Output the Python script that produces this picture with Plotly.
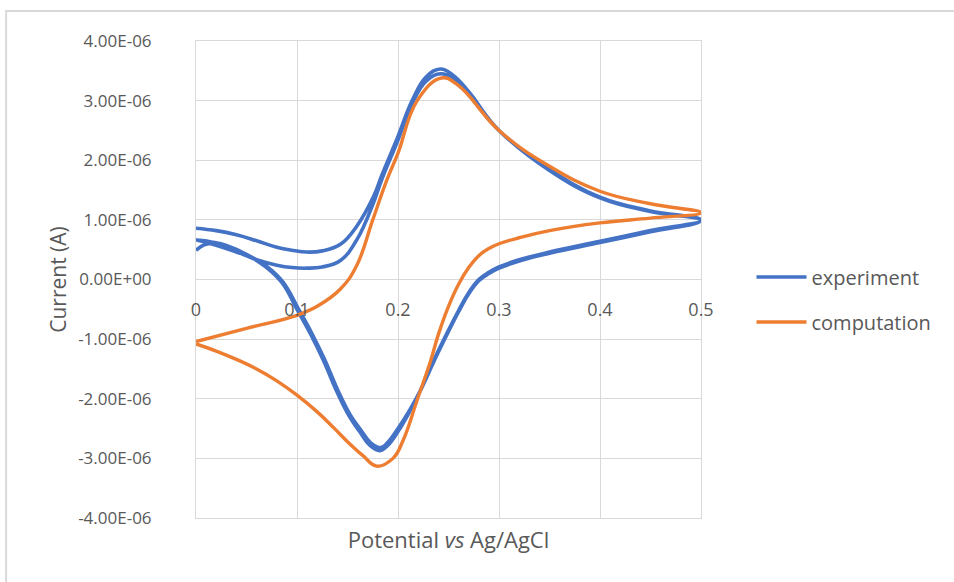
import plotly.graph_objects as go

# Cyclic voltammogram, potential in V, current in microamps
E_exp = [
    # first anodic sweep
    0.000, 0.020, 0.040, 0.060, 0.080, 0.095, 0.110, 0.125, 0.143, 0.159, 0.176, 0.184,
    0.200, 0.214, 0.228, 0.242, 0.255, 0.270, 0.300, 0.350, 0.400, 0.450, 0.500,
    # first cathodic sweep
    0.450, 0.400, 0.350, 0.320, 0.300, 0.290, 0.280, 0.270, 0.260, 0.250, 0.237, 0.224,
    0.212, 0.200, 0.190, 0.182, 0.172, 0.162, 0.152, 0.140, 0.126, 0.113, 0.100, 0.085,
    0.070, 0.050, 0.030, 0.015, 0.000,
    # second anodic sweep
    0.015, 0.030, 0.047, 0.060, 0.080, 0.095, 0.110, 0.125, 0.143, 0.159, 0.176, 0.184,
    0.200, 0.214, 0.228, 0.242, 0.255, 0.270, 0.300, 0.350, 0.400, 0.450, 0.500,
    # second cathodic sweep
    0.450, 0.400, 0.350, 0.320, 0.300, 0.290, 0.280, 0.270, 0.260, 0.250, 0.237, 0.224,
    0.212, 0.200, 0.190, 0.183, 0.173, 0.163, 0.153, 0.141, 0.127, 0.114, 0.101, 0.086,
    0.070, 0.050, 0.033, 0.017, 0.008, 0.000,
]
I_exp_uA = [
    0.86, 0.82, 0.75, 0.65, 0.54, 0.49, 0.46, 0.48, 0.59, 0.89, 1.40, 1.75,
    2.40, 3.00, 3.40, 3.53, 3.42, 3.15, 2.50, 1.85, 1.38, 1.15, 1.00,
    0.82, 0.64, 0.46, 0.33, 0.21, 0.12, 0.00, -0.22, -0.52, -0.85, -1.30, -1.80,
    -2.20, -2.55, -2.78, -2.87, -2.78, -2.55, -2.30, -1.90, -1.35, -0.90, -0.50, -0.05,
    0.20, 0.42, 0.57, 0.63, 0.67,
    0.60, 0.52, 0.42, 0.33, 0.24, 0.20, 0.19, 0.21, 0.32, 0.66, 1.30, 1.68,
    2.34, 2.95, 3.33, 3.45, 3.36, 3.10, 2.50, 1.83, 1.37, 1.14, 0.99,
    0.80, 0.62, 0.44, 0.31, 0.19, 0.10, -0.02, -0.24, -0.54, -0.87, -1.32, -1.80,
    -2.18, -2.50, -2.73, -2.82, -2.74, -2.52, -2.28, -1.88, -1.33, -0.88, -0.48, -0.04,
    0.22, 0.42, 0.55, 0.61, 0.58, 0.49,
]

E_comp = [
    0.000, 0.050, 0.100, 0.120, 0.143, 0.159, 0.175, 0.189, 0.200, 0.219, 0.243, 0.260,
    0.300, 0.350, 0.400, 0.450, 0.500,
    0.450, 0.400, 0.350, 0.320, 0.300, 0.290, 0.280, 0.270, 0.260, 0.250, 0.240, 0.232,
    0.219, 0.205, 0.195, 0.179, 0.165, 0.150, 0.136, 0.120, 0.100, 0.080, 0.060, 0.040,
    0.020, 0.000,
]
I_comp_uA = [
    -1.04, -0.82, -0.60, -0.45, -0.16, 0.23, 1.00, 1.67, 2.12, 3.00, 3.38, 3.25,
    2.50, 1.90, 1.48, 1.27, 1.12,
    1.03, 0.95, 0.82, 0.70, 0.60, 0.52, 0.40, 0.20, -0.08, -0.45, -0.92, -1.38,
    -2.02, -2.70, -3.00, -3.13, -2.95, -2.72, -2.48, -2.22, -1.94, -1.70, -1.50, -1.34,
    -1.20, -1.08,
]

x_ticks = [0, 0.1, 0.2, 0.3, 0.4, 0.5]
x_tick_text = ["0", "0.1", "0.2", "0.3", "0.4", "0.5"]
y_ticks = [4e-6, 3e-6, 2e-6, 1e-6, 0, -1e-6, -2e-6, -3e-6, -4e-6]
y_tick_text = ["4.00E-06", "3.00E-06", "2.00E-06", "1.00E-06", "0.00E+00",
               "-1.00E-06", "-2.00E-06", "-3.00E-06", "-4.00E-06"]

I_exp = [v * 1e-6 for v in I_exp_uA]
I_comp = [v * 1e-6 for v in I_comp_uA]

BLUE = "#4472C4"
ORANGE = "#ED7D31"
GRID = "#D9D9D9"
TEXT = "#595959"
FONT = "Open Sans"

fig = go.Figure()
fig.add_trace(go.Scatter(
    x=E_exp, y=I_exp, mode="lines", name="experiment", legendgroup="a",
    line=dict(color=BLUE, width=3.6, shape="spline", smoothing=1.2),
))
fig.add_trace(go.Scatter(
    x=E_comp, y=I_comp, mode="lines", name="computation", legendgroup="b",
    line=dict(color=ORANGE, width=3.4, shape="spline", smoothing=1.2),
))
# carrier for the tick labels sitting on the zero line
fig.add_trace(go.Scatter(x=[], y=[], xaxis="x2", yaxis="y", showlegend=False))

fig.update_layout(
    width=954, height=582,
    margin=dict(l=196, r=253, t=41, b=64),
    paper_bgcolor="white", plot_bgcolor="white",
    font=dict(family=FONT, color=TEXT, size=16),
    xaxis=dict(
        range=[0, 0.5], tickvals=x_ticks, showticklabels=False,
        showgrid=True, gridcolor=GRID, gridwidth=1,
        showline=True, linecolor=GRID, linewidth=1, mirror=True,
        zeroline=False,
        title=dict(text="Potential <i>vs</i> Ag/AgCl", font=dict(size=22, color=TEXT), standoff=14),
    ),
    xaxis2=dict(
        range=[0, 0.5], overlaying="x", anchor="free", position=0.5,
        tickvals=x_ticks, ticktext=x_tick_text,
        ticks="outside", ticklen=14, tickcolor="rgba(0,0,0,0)",
        tickfont=dict(size=18, color=TEXT),
        showgrid=False, showline=False, zeroline=False,
    ),
    yaxis=dict(
        range=[-4e-6, 4e-6], tickvals=y_ticks, ticktext=y_tick_text,
        tickfont=dict(size=17, color=TEXT),
        ticklabelstandoff=40,
        showgrid=True, gridcolor=GRID, gridwidth=1,
        showline=True, linecolor=GRID, linewidth=1, mirror=True,
        zeroline=True, zerolinecolor=GRID, zerolinewidth=1,
        title=dict(text="Current (A)", font=dict(size=21, color=TEXT), standoff=5),
    ),
    legend=dict(
        x=1.1, y=0.458, xanchor="left", yanchor="middle",
        font=dict(size=20, color=TEXT), traceorder="grouped",
        tracegroupgap=16, itemwidth=50, bgcolor="rgba(0,0,0,0)",
    ),
    shapes=[dict(
        type="rect", xref="paper", yref="paper",
        x0=-0.376, x1=1.6, y0=-0.2, y1=1.063,
        line=dict(color=GRID, width=2), fillcolor="rgba(0,0,0,0)", layer="below",
    )],
)

fig.write_html("out.html")
